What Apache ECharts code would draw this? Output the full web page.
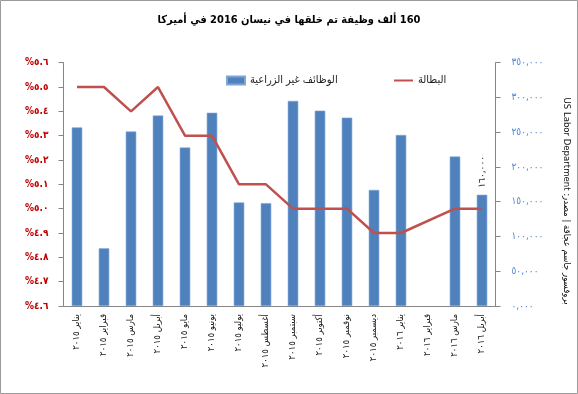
<!DOCTYPE html>
<html>
<head>
<meta charset="utf-8">
<script src="https://cdn.jsdelivr.net/npm/echarts@6/dist/echarts.min.js"></script>
<style>
html,body{margin:0;padding:0;background:#fff;}
#chart{width:578px;height:394px;}
</style>
</head>
<body>
<div id="chart"></div>
<script>
// ---- data ----
const titleText = '160 ألف وظيفة تم خلقها في نيسان 2016 في أميركا';
const categories = ['يناير ٢٠١٥','فبراير ٢٠١٥','مارس ٢٠١٥','أبريل ٢٠١٥','مايو ٢٠١٥','يونيو ٢٠١٥','يوليو ٢٠١٥','أغسطس ٢٠١٥','سبتمبر ٢٠١٥','أكتوبر ٢٠١٥','نوفمبر ٢٠١٥','ديسمبر ٢٠١٥','يناير ٢٠١٦','فبراير ٢٠١٦','مارس ٢٠١٦','أبريل ٢٠١٦'];
const jobs = [257000, 83000, 251000, 274000, 228000, 278000, 149000, 148000, 295000, 281000, 271000, 167000, 246000, null, 215000, 160000];
const unemployment = [5.5, 5.5, 5.4, 5.5, 5.3, 5.3, 5.1, 5.1, 5.0, 5.0, 5.0, 4.9, 4.9, null, 5.0, 5.0];
const jobsName = 'الوظائف غير الزراعية';
const unempName = 'البطالة';
const leftTickLabels = ['%٤.٦','%٤.٧','%٤.٨','%٤.٩','%٥.٠','%٥.١','%٥.٢','%٥.٣','%٥.٤','%٥.٥','%٥.٦'];
const rightTickLabels = ['٠,٠٠٠','٥٠,٠٠٠','١٠٠,٠٠٠','١٥٠,٠٠٠','٢٠٠,٠٠٠','٢٥٠,٠٠٠','٣٠٠,٠٠٠','٣٥٠,٠٠٠'];
const lastBarLabel = '١٦٠,٠٠٠';
const sourceText = 'بروفسور جاسم عجاقة | مصدر: US Labor Department';

// ---- chart ----
const FONT = '"DejaVu Sans Condensed", "DejaVu Sans", sans-serif';
const RTL = (s) => '\u202B' + s + '\u202C';   // right-to-left embedding for Arabic strings
const chart = echarts.init(document.getElementById('chart'), null, {renderer:'canvas'});
const lastIdx = jobs.length - 1;
const barData = jobs.map((v, i) => i === lastIdx ? {value: v, label: {show: true}} : v);

chart.setOption({
  animation: false,
  backgroundColor: '#fff',
  textStyle: {fontFamily: FONT},
  title: {
    text: RTL(titleText), left: 'center', top: 10,
    textStyle: {fontSize: 11, fontWeight: 'bold', color: '#000', fontFamily: FONT}
  },
  legend: [
    {data: [{name: jobsName, icon: 'rect'}], left: 221, top: 70, itemWidth: 18, itemHeight: 8, itemGap: 5,
     formatter: (n) => RTL(n),
     textStyle: {fontSize: 11, color: '#222', fontFamily: FONT}},
    {data: [{name: unempName, icon: 'path://M0,0 M19,8 M0,3 L19,3 L19,5 L0,5 Z', itemStyle: {color: '#c0504d'}}],
     left: 389, top: 70, itemWidth: 19, itemHeight: 8,
     textStyle: {fontSize: 11, color: '#222', fontFamily: FONT}}
  ],
  grid: {left: 63.5, right: 82.5, top: 62.7, bottom: 88},
  xAxis: {
    type: 'category', data: categories,
    axisLine: {lineStyle: {color: '#868686'}},
    axisTick: {length: 5, lineStyle: {color: '#868686'}},
    axisLabel: {rotate: 90, fontSize: 9.5, color: '#222', margin: 8, interval: 0, fontFamily: FONT}
  },
  yAxis: [
    {
      type: 'value', min: 4.6, max: 5.6, interval: 0.1, position: 'left',
      splitLine: {show: false},
      axisLine: {show: true, lineStyle: {color: '#868686'}},
      axisTick: {show: true, length: 5, lineStyle: {color: '#868686'}},
      axisLabel: {color: '#c00000', fontSize: 10, fontWeight: 'bold', margin: 15, fontFamily: FONT,
        formatter: (v, i) => leftTickLabels[i]}
    },
    {
      type: 'value', min: 0, max: 350000, interval: 50000, position: 'right',
      splitLine: {show: false},
      axisLine: {show: true, lineStyle: {color: '#868686'}},
      axisTick: {show: true, length: 5, lineStyle: {color: '#868686'}},
      axisLabel: {color: '#4f86d8', fontSize: 10, margin: 16, fontFamily: FONT,
        formatter: (v, i) => rightTickLabels[i]}
    }
  ],
  series: [
    {
      name: jobsName, type: 'bar', yAxisIndex: 1, data: barData, barWidth: 10.5,
      itemStyle: {color: '#4f81bd', borderColor: '#7fa6d6', borderWidth: 0.6},
      label: {show: false, position: 'top', rotate: 90, align: 'left', verticalAlign: 'middle', distance: 7,
        fontSize: 10, color: '#333', fontFamily: FONT, formatter: () => lastBarLabel}
    },
    {
      name: unempName, type: 'line', yAxisIndex: 0, data: unemployment, connectNulls: true,
      symbol: 'none', lineStyle: {color: '#c0504d', width: 2.5}, itemStyle: {color: '#c0504d'}
    }
  ],
  graphic: [
    {type: 'rect', shape: {x: 0.5, y: 0.5, width: 577, height: 393}, style: {fill: 'none', stroke: '#9a9a9a', lineWidth: 1}, silent: true},
    {type: 'text', x: 566, y: 201, rotation: -Math.PI / 2,
     style: {text: RTL(sourceText), fill: '#111', align: 'center', verticalAlign: 'middle', font: '9.5px ' + FONT}}
  ]
});
</script>
</body>
</html>
